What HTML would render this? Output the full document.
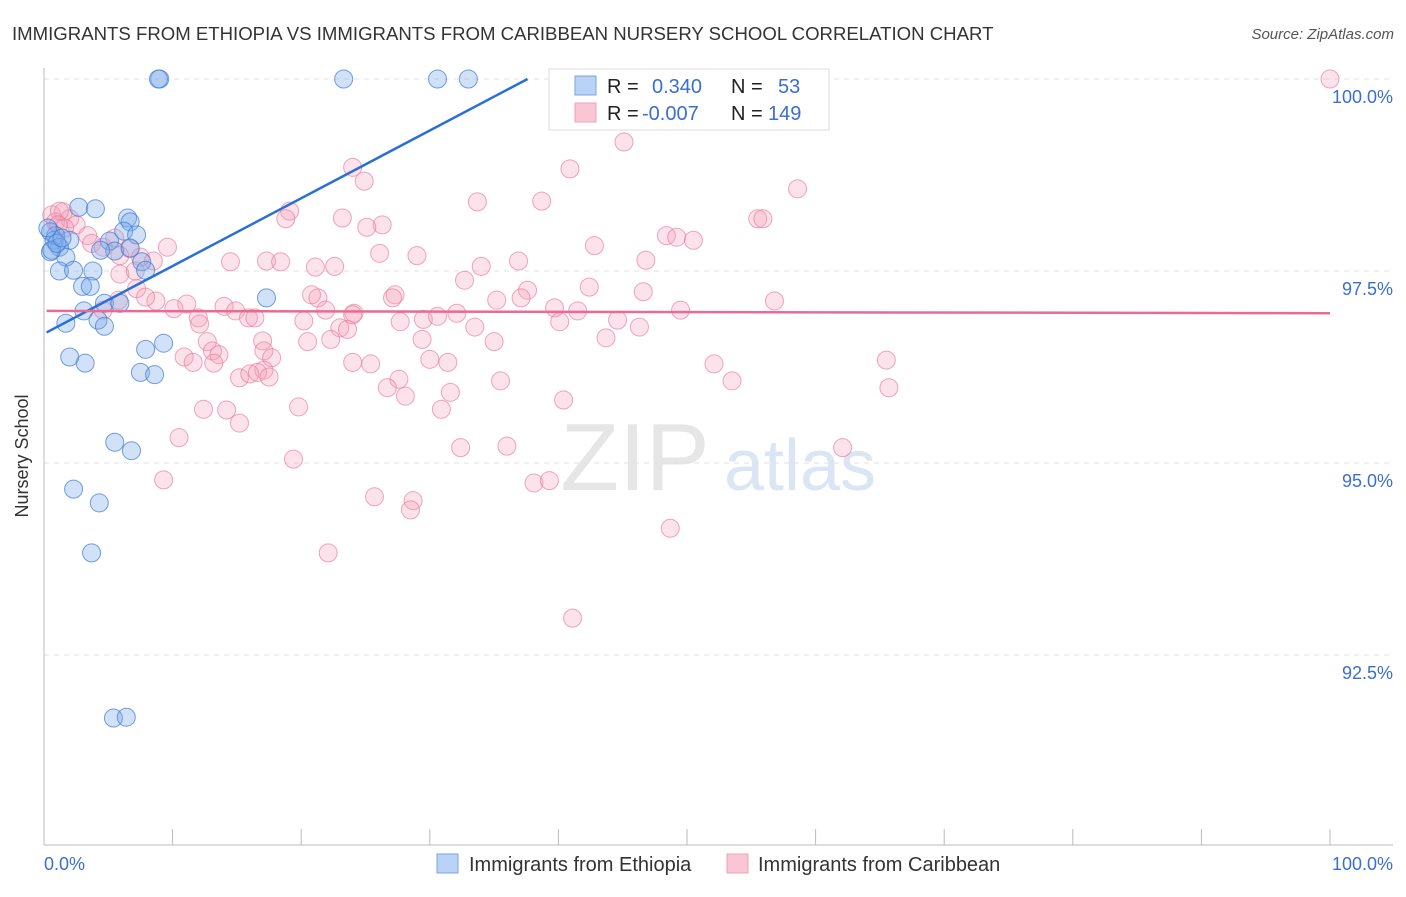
<!DOCTYPE html>
<html><head><meta charset="utf-8"><style>
body{margin:0;background:#fff;font-family:"Liberation Sans",sans-serif}
svg text{font-family:"Liberation Sans",sans-serif}
</style></head><body>
<svg id="c" width="1406" height="892" xmlns="http://www.w3.org/2000/svg">
<text x="12" y="40" font-size="18.6" fill="#333">IMMIGRANTS FROM ETHIOPIA VS IMMIGRANTS FROM CARIBBEAN NURSERY SCHOOL CORRELATION CHART</text>
<text x="1394" y="39" font-size="15" fill="#555" text-anchor="end" font-style="italic">Source: ZipAtlas.com</text>
<text x="28" y="456" font-size="18" fill="#333" transform="rotate(-90 28 456)" text-anchor="middle">Nursery School</text>
<g><text x="635" y="490" font-size="96" fill="#e6e6e6" text-anchor="middle" font-family="Liberation Serif">ZIP</text><text x="800" y="490" font-size="72" fill="#dbe6f5" text-anchor="middle">atlas</text></g>
<g id="grid"></g><g id="pts"></g><g id="lines"></g>
<g>
<rect x="549" y="69" width="280" height="61" fill="#fff" stroke="#ddd"/>
<rect x="575" y="76" width="21" height="19" fill="#b8d3f5" stroke="#7aa7e0"/>
<rect x="575" y="103" width="21" height="19" fill="#f9c6d5" stroke="#eea0b8"/>
<text x="607" y="93" font-size="20" fill="#222">R = </text><text x="652" y="93" font-size="20" fill="#3a6fd0">0.340</text>
<text x="731" y="93" font-size="20" fill="#222">N = </text><text x="778" y="93" font-size="20" fill="#3a6fd0">53</text>
<text x="607" y="120" font-size="20" fill="#222">R = </text><text x="642" y="120" font-size="20" fill="#3a6fd0">-0.007</text>
<text x="731" y="120" font-size="20" fill="#222">N = </text><text x="768" y="120" font-size="20" fill="#3a6fd0">149</text>
</g>
<g>
<rect x="437" y="854" width="21" height="19" fill="#b8d3f5" stroke="#7aa7e0"/>
<text x="469" y="871" font-size="20" fill="#333">Immigrants from Ethiopia</text>
<rect x="727" y="854" width="21" height="19" fill="#f9c6d5" stroke="#eea0b8"/>
<text x="758" y="871" font-size="20" fill="#333">Immigrants from Caribbean</text>
</g>
</svg>
<script>
const xTicks=[0,10,20,30,40,50,60,70,80,90,100];
const yTicks=[100,97.5,95,92.5];
const yTickLabels=["100.0%","97.5%","95.0%","92.5%"];
const ethX=[9.0,8.9,23.3,30.6,33.0,2.7,4.0,6.5,6.7,0.5,0.9,6.2,7.2,0.8,2.0,5.1,1.2,0.5,5.5,6.7,7.6,1.7,1.2,2.3,3.8,7.9,3.0,3.6,4.7,5.9,3.1,1.7,4.2,4.7,17.3,2.0,3.2,7.9,9.3,7.5,8.6,5.5,6.8,2.3,4.3,3.7,5.4,6.4,0.6,0.3,1.0,1.4,4.4];
const ethY=[100,100,100,100,100,98.33,98.31,98.19,98.14,98.01,97.96,98.02,97.97,97.90,97.90,97.89,97.81,97.75,97.76,97.80,97.62,97.68,97.50,97.51,97.50,97.51,97.30,97.30,97.08,97.08,96.98,96.82,96.86,96.78,97.15,96.38,96.30,96.48,96.56,96.18,96.15,95.27,95.16,94.66,94.48,93.83,91.68,91.69,97.77,98.06,97.86,97.93,97.77];
const carX=[100,52.4,45.1,24.0,24.9,40.9,58.6,38.7,33.7,19.1,18.8,23.2,26.3,25.1,55.5,55.9,48.4,49.2,50.5,42.8,26.1,29.0,17.3,18.4,14.5,21.1,22.6,34.0,36.9,46.8,32.7,37.6,42.4,46.6,27.3,27.1,35.2,37.1,39.7,41.5,49.5,56.8,14.0,14.9,15.9,16.4,11.1,10.1,12.0,12.1,20.2,21.3,20.8,21.9,23.0,23.6,24.1,24.0,27.7,29.5,30.6,32.1,33.5,35.0,40.1,43.7,44.6,46.3,29.4,30.0,31.4,20.5,22.3,24.0,12.7,13.1,13.6,10.9,11.6,13.2,17.0,17.1,17.7,17.1,15.2,16.0,16.6,17.5,25.4,27.6,26.7,28.1,31.6,30.9,35.5,40.4,52.1,53.5,65.5,65.7,12.4,14.2,15.2,19.8,10.5,19.4,32.4,36.0,38.1,39.3,25.7,28.7,28.5,22.1,48.7,41.1,62.1,9.3,0.6,0.9,1.5,2.0,2.5,1.6,3.4,3.7,4.6,5.5,5.9,6.7,7.5,8.5,9.6,7.2,8.7,7.9,5.9,7.1,5.8,4.6,1.2,1.1];
const carY=[100,100,99.18,98.85,98.67,98.83,98.57,98.41,98.40,98.28,98.18,98.19,98.10,98.07,98.18,98.18,97.96,97.94,97.90,97.83,97.73,97.70,97.63,97.62,97.62,97.55,97.56,97.56,97.63,97.64,97.38,97.25,97.29,97.23,97.19,97.15,97.12,97.15,97.02,96.98,96.99,97.11,97.04,96.98,96.89,96.89,97.07,97.01,96.89,96.81,96.85,97.15,97.19,96.99,96.76,96.74,96.95,96.93,96.84,96.87,96.91,96.95,96.77,96.58,96.84,96.63,96.86,96.77,96.61,96.35,96.31,96.58,96.61,96.31,96.58,96.46,96.41,96.38,96.31,96.30,96.59,96.46,96.37,96.21,96.11,96.16,96.18,96.12,96.29,96.09,95.98,95.87,95.92,95.70,96.07,95.82,96.29,96.07,96.34,95.98,95.70,95.69,95.52,95.73,95.33,95.05,95.20,95.22,94.74,94.77,94.56,94.51,94.39,93.83,94.15,92.98,95.20,94.78,98.23,98.14,98.27,98.18,98.10,98.06,97.96,97.86,97.81,97.93,97.70,97.79,97.68,97.63,97.81,97.27,97.11,97.16,97.46,97.50,97.12,96.99,98.28,98.10];
const ethLineX=[0.2,37.6], ethLineY=[96.7,100];
const carLineX=[0.2,100], carLineY=[96.98,96.95];
const NS="http://www.w3.org/2000/svg";
const X=v=>44+v*12.86, Y=v=>79+(100-v)*76.8;
function mk(t,a,p){const e=document.createElementNS(NS,t);for(const k in a)e.setAttribute(k,a[k]);document.getElementById(p).appendChild(e);return e;}
const g='grid';
yTicks.forEach((t,i)=>{
 const l=mk('line',{x1:44,x2:1393,y1:Y(t),y2:Y(t),stroke:'#e2e2e2','stroke-dasharray':'5,5'},g);
 
 
 const tx=mk('text',{x:1393,y:Y(t)+24,'font-size':18,fill:'#3a6fd0','text-anchor':'end'},g);tx.textContent=yTickLabels[i];
 
 
});
let ax=mk('line',{x1:44,x2:44,y1:68,y2:845,stroke:'#bbb'},g);


ax=mk('line',{x1:44,x2:1393,y1:845,y2:845,stroke:'#bbb'},g);


xTicks.forEach(t=>{const l=mk('line',{x1:X(t),x2:X(t),y1:829,y2:845,stroke:'#bbb'},g);
 
 });
let t0=mk('text',{x:44,y:870,'font-size':18,fill:'#3a6fd0'},g);t0.textContent='0.0%';


t0=mk('text',{x:1393,y:870,'font-size':18,fill:'#3a6fd0','text-anchor':'end'},g);t0.textContent='100.0%';


carX.forEach((v,i)=>{const c=mk('circle',{cx:X(v),cy:Y(carY[i]),r:9,fill:'rgba(245,160,185,0.3)',stroke:'rgba(232,120,155,0.65)','stroke-width':1},'pts');
 
 });
ethX.forEach((v,i)=>{const c=mk('circle',{cx:X(v),cy:Y(ethY[i]),r:9,fill:'rgba(120,170,235,0.35)',stroke:'rgba(60,120,210,0.7)','stroke-width':1},'pts');
 
 });
let ln=mk('line',{x1:X(ethLineX[0]),y1:Y(ethLineY[0]),x2:X(ethLineX[1]),y2:Y(ethLineY[1]),stroke:'#2a6fd6','stroke-width':2.5},'lines');


ln=mk('line',{x1:X(carLineX[0]),y1:Y(carLineY[0]),x2:X(carLineX[1]),y2:Y(carLineY[1]),stroke:'#e86a95','stroke-width':2.5},'lines');


</script>
</body></html>
